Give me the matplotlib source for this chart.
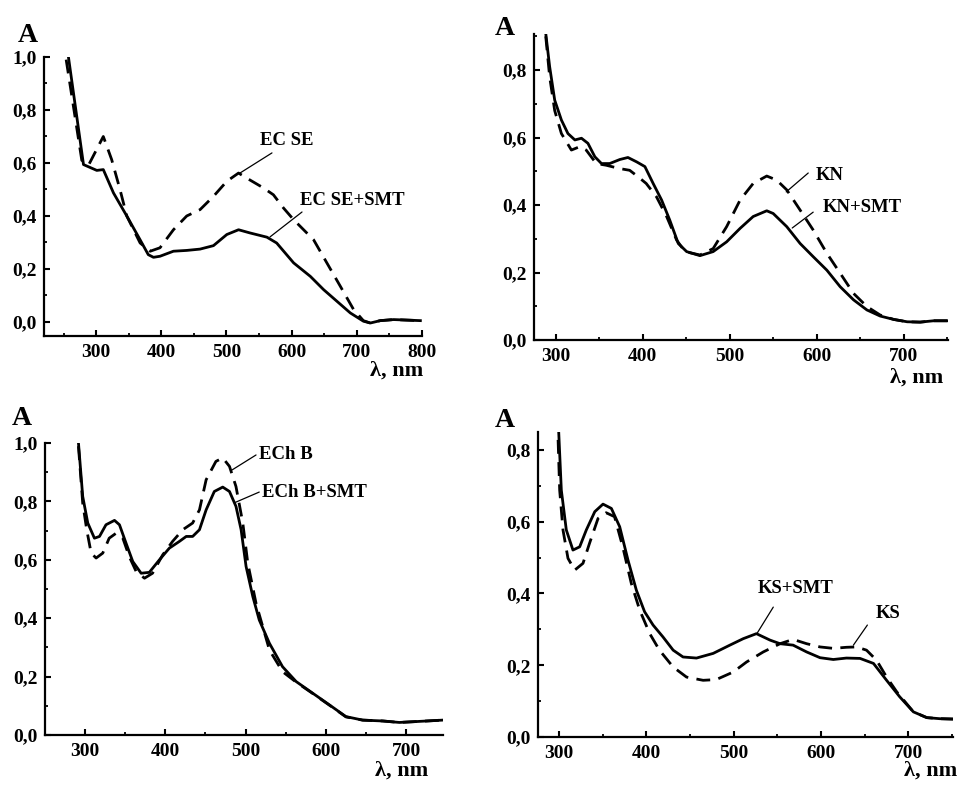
import matplotlib
matplotlib.use("Agg")
import matplotlib.pyplot as plt
from matplotlib.ticker import MultipleLocator, FuncFormatter

# ---------------- data ----------------
# Panel 1: EC SE
ecse_smt_x = [257.5, 280.6, 301, 311, 326.6, 347, 367.5, 380, 388, 398, 418.6, 439, 459.5, 480, 500.5,
              518.5, 536, 562, 577, 603, 628.7, 649, 669.5, 690, 710, 720.7, 736, 756.5, 797.5]
ecse_smt_y = [1.0, 0.594, 0.572, 0.575, 0.487, 0.40, 0.31, 0.254, 0.244, 0.248, 0.267, 0.27, 0.275, 0.288, 0.33,
              0.348, 0.336, 0.32, 0.298, 0.223, 0.172, 0.122, 0.078, 0.034, 0.003, -0.004, 0.005, 0.009, 0.005]
ecse_x = [254, 278, 288.8, 311, 323.8, 336.6, 347, 367.5, 383, 398, 418.6, 439, 459.5, 480, 500.5, 518.5,
          531, 556.6, 572, 587.5, 603, 633.7, 654, 674.6, 695, 710, 720.7, 736, 756.5, 797.5]
ecse_y = [0.99, 0.61, 0.594, 0.70, 0.613, 0.50, 0.40, 0.298, 0.267, 0.28, 0.348, 0.40, 0.424, 0.474, 0.531, 0.562,
          0.543, 0.506, 0.48, 0.43, 0.386, 0.31, 0.223, 0.135, 0.047, 0.005, -0.004, 0.005, 0.009, 0.005]

# Panel 2: KN
kn_smt_x = [288.5, 293, 298.8, 306.5, 314, 322, 329.6, 337, 345, 352.6, 362, 373.7, 383, 393, 402.5, 412,
            421.7, 431, 440.9, 450.5, 465.8, 481, 496.5, 512, 527, 542.6, 550, 565.6, 581, 596, 611.7, 627,
            642.4, 657.8, 673, 688.5, 704, 719, 734.6, 750]
kn_smt_y = [0.909, 0.81, 0.711, 0.652, 0.612, 0.593, 0.598, 0.583, 0.543, 0.523, 0.523, 0.535, 0.541, 0.528,
            0.514, 0.464, 0.415, 0.356, 0.286, 0.262, 0.25, 0.262, 0.291, 0.331, 0.366, 0.383, 0.375, 0.336,
            0.286, 0.247, 0.207, 0.158, 0.119, 0.089, 0.071, 0.061, 0.054, 0.053, 0.057, 0.057]
kn_x = [288.5, 293, 298.8, 306.5, 318, 327.6, 335, 346.6, 358, 373.7, 385, 394.6, 404, 415.7, 427.5, 439,
        448.6, 465.8, 481, 496.5, 512, 527, 542.6, 554, 565.6, 581, 596, 611.7, 627, 642.4, 657.8, 673,
        688.5, 704, 719, 734.6, 750]
kn_y = [0.9, 0.78, 0.68, 0.612, 0.563, 0.573, 0.563, 0.523, 0.518, 0.508, 0.503, 0.484, 0.464, 0.425, 0.366,
        0.296, 0.262, 0.252, 0.271, 0.336, 0.415, 0.464, 0.486, 0.474, 0.445, 0.385, 0.326, 0.257, 0.198,
        0.138, 0.099, 0.074, 0.061, 0.054, 0.053, 0.057, 0.057]

# Panel 3: ECh B
echb_smt_x = [291.7, 297, 303.3, 311.6, 317.9, 326, 336.6, 342.8, 351, 359.4, 369.8, 380, 392.6, 405, 417.5,
              426, 434, 442.5, 450.8, 461, 471.5, 479.9, 488, 494.4, 500.6, 509, 517, 529.7, 546, 563, 583.7,
              604.5, 625, 645.9, 671, 691.6, 712.5, 745.7]
echb_smt_y = [1.0, 0.817, 0.726, 0.674, 0.68, 0.72, 0.735, 0.72, 0.657, 0.594, 0.554, 0.557, 0.60, 0.64, 0.663,
              0.68, 0.68, 0.703, 0.771, 0.834, 0.849, 0.834, 0.783, 0.703, 0.577, 0.474, 0.394, 0.314, 0.234,
              0.183, 0.143, 0.103, 0.063, 0.051, 0.048, 0.043, 0.046, 0.051]
echb_x = [291.7, 297, 302, 307.5, 313.7, 322, 330, 338.6, 347, 355, 363.6, 374, 384, 396.7, 409, 421.7, 434,
          442.5, 450.8, 463, 471.5, 479.9, 488, 496.5, 502.7, 513, 529.7, 546, 563, 583.7, 604.5, 625, 645.9,
          671, 691.6, 712.5, 745.7]
echb_y = [0.989, 0.794, 0.703, 0.623, 0.606, 0.623, 0.674, 0.691, 0.674, 0.611, 0.56, 0.537, 0.554, 0.617,
          0.663, 0.703, 0.726, 0.771, 0.874, 0.937, 0.949, 0.92, 0.851, 0.726, 0.589, 0.451, 0.291, 0.217,
          0.181, 0.142, 0.102, 0.062, 0.051, 0.048, 0.043, 0.046, 0.051]

# Panel 4: KS
ks_smt_x = [299.6, 302.7, 308.4, 316, 323.7, 331.3, 341, 350.4, 360, 369.5, 379, 388.6, 398, 407.7, 419,
            430.7, 442, 457.4, 476.5, 495.6, 510.9, 526, 541.6, 553, 568, 583.5, 598.8, 614, 629, 644.6, 660,
            675, 690, 705.7, 721, 736, 751]
ks_smt_y = [0.856, 0.688, 0.577, 0.521, 0.53, 0.577, 0.628, 0.649, 0.637, 0.586, 0.493, 0.409, 0.349, 0.312,
            0.279, 0.242, 0.223, 0.22, 0.233, 0.256, 0.274, 0.288, 0.27, 0.26, 0.256, 0.237, 0.221, 0.216, 0.22,
            0.219, 0.205, 0.158, 0.112, 0.07, 0.054, 0.051, 0.05]
ks_x = [299, 300.8, 304.6, 310.3, 318, 327.5, 335, 344.7, 354, 363.6, 373, 382.8, 392.5, 403.9, 415, 430.7,
        446, 465, 480, 499.4, 514.7, 533.8, 553, 568, 583.5, 598.8, 614, 629, 640.5, 652, 663.5, 675, 686.6,
        705.7, 721, 736, 751]
ks_y = [0.828, 0.688, 0.577, 0.498, 0.465, 0.484, 0.54, 0.609, 0.625, 0.614, 0.53, 0.428, 0.353, 0.288, 0.242,
        0.195, 0.167, 0.158, 0.16, 0.181, 0.209, 0.237, 0.26, 0.272, 0.26, 0.251, 0.247, 0.25, 0.251, 0.242,
        0.214, 0.167, 0.126, 0.07, 0.054, 0.051, 0.05]

labels = [("EC SE", "EC SE+SMT"), ("KN", "KN+SMT"), ("ECh B", "ECh B+SMT"), ("KS", "KS+SMT")]
xticks_all = [[300, 400, 500, 600, 700, 800], [300, 400, 500, 600, 700],
              [300, 400, 500, 600, 700], [300, 400, 500, 600, 700]]
yticks_all = [[0.0, 0.2, 0.4, 0.6, 0.8, 1.0], [0.0, 0.2, 0.4, 0.6, 0.8],
              [0.0, 0.2, 0.4, 0.6, 0.8, 1.0], [0.0, 0.2, 0.4, 0.6, 0.8]]

# ---------------- figure ----------------
W, H = 961, 786
fig = plt.figure(figsize=(W / 100, H / 100), dpi=100)
FONT = "Liberation Serif"

def px_axes(l, t, r, b):
    return fig.add_axes([l / W, 1 - b / H, (r - l) / W, (b - t) / H])

boxes = [(44, 57, 422, 336), (534, 34, 948, 340), (45, 443, 443, 735), (538, 432, 953, 737)]
xlims = [(220, 800), (275, 751), (250, 746), (276, 751)]
ylims = [(-0.053, 1.0), (0, 0.907), (0, 1.0), (0, 0.85)]
curves = [(ecse_x, ecse_y, ecse_smt_x, ecse_smt_y),
          (kn_x, kn_y, kn_smt_x, kn_smt_y),
          (echb_x, echb_y, echb_smt_x, echb_smt_y),
          (ks_x, ks_y, ks_smt_x, ks_smt_y)]
# annotation: (text_xy, line_start, line_end) for dashed, then solid
annots = [
    [((551, 0.683), (569.8, 0.638), (520.7, 0.562)), ((612.8, 0.46), (615.9, 0.415), (566.8, 0.321))],
    [((598.4, 0.489), (590.3, 0.495), (565.0, 0.439)), ((606.5, 0.394), (596.0, 0.379), (571.9, 0.332))],
    [((517, 0.959), (513, 0.959), (483.3, 0.908)), ((520.7, 0.829), (517, 0.832), (485.8, 0.795))],
    [((662, 0.343), (653, 0.312), (637, 0.256)), ((528, 0.415), (545.3, 0.362), (527, 0.29))],
]
A_pos = [(18, 42), (495, 35), (12, 425), (495, 427)]
lam_pos = [(423, 376), (943, 383), (428, 776), (957, 776)]

comma = FuncFormatter(lambda v, p: f"{v:.1f}".replace(".", ","))

for i, ax in enumerate([px_axes(*b) for b in boxes]):
    dx, dy, sx, sy = curves[i]
    ax.plot(sx, sy, color="black", lw=2.0, solid_joinstyle="round")
    ax.plot(dx, dy, color="black", lw=2.0, linestyle=(0, (5, 3)))
    ax.set_xlim(*xlims[i])
    ax.set_ylim(*ylims[i])
    for s in ("top", "right"):
        ax.spines[s].set_visible(False)
    for s in ("left", "bottom"):
        ax.spines[s].set_linewidth(1.6)
    ax.set_xticks(xticks_all[i])
    ax.set_yticks(yticks_all[i])
    ax.xaxis.set_minor_locator(MultipleLocator(50))
    ax.yaxis.set_minor_locator(MultipleLocator(0.1))
    ax.yaxis.set_major_formatter(comma)
    ax.tick_params(which="major", direction="in", length=4, width=1.5, pad=5)
    ax.tick_params(which="minor", direction="in", length=2, width=1.3)
    ax.tick_params(axis="x", which="major", pad=6)
    for lab in ax.get_xticklabels() + ax.get_yticklabels():
        lab.set_fontfamily(FONT)
        lab.set_fontweight("bold")
        lab.set_fontsize(14)
    for (txy, p0, p1), name in zip(annots[i], labels[i]):
        ax.text(txy[0], txy[1], name, fontfamily=FONT, fontweight="bold", fontsize=13.5,
                ha="left", va="center")
        ax.annotate("", xy=p1, xytext=p0,
                    arrowprops=dict(arrowstyle="-", color="black", lw=0.9, shrinkA=0, shrinkB=0))
    fig.text(A_pos[i][0] / W, 1 - A_pos[i][1] / H, "A", fontfamily=FONT, fontweight="bold",
             fontsize=20, ha="left", va="baseline")
    fig.text(lam_pos[i][0] / W, 1 - lam_pos[i][1] / H, "λ, nm", fontfamily=FONT, fontweight="bold",
             fontsize=16, ha="right", va="baseline")

fig.savefig("out.png", dpi=100)
